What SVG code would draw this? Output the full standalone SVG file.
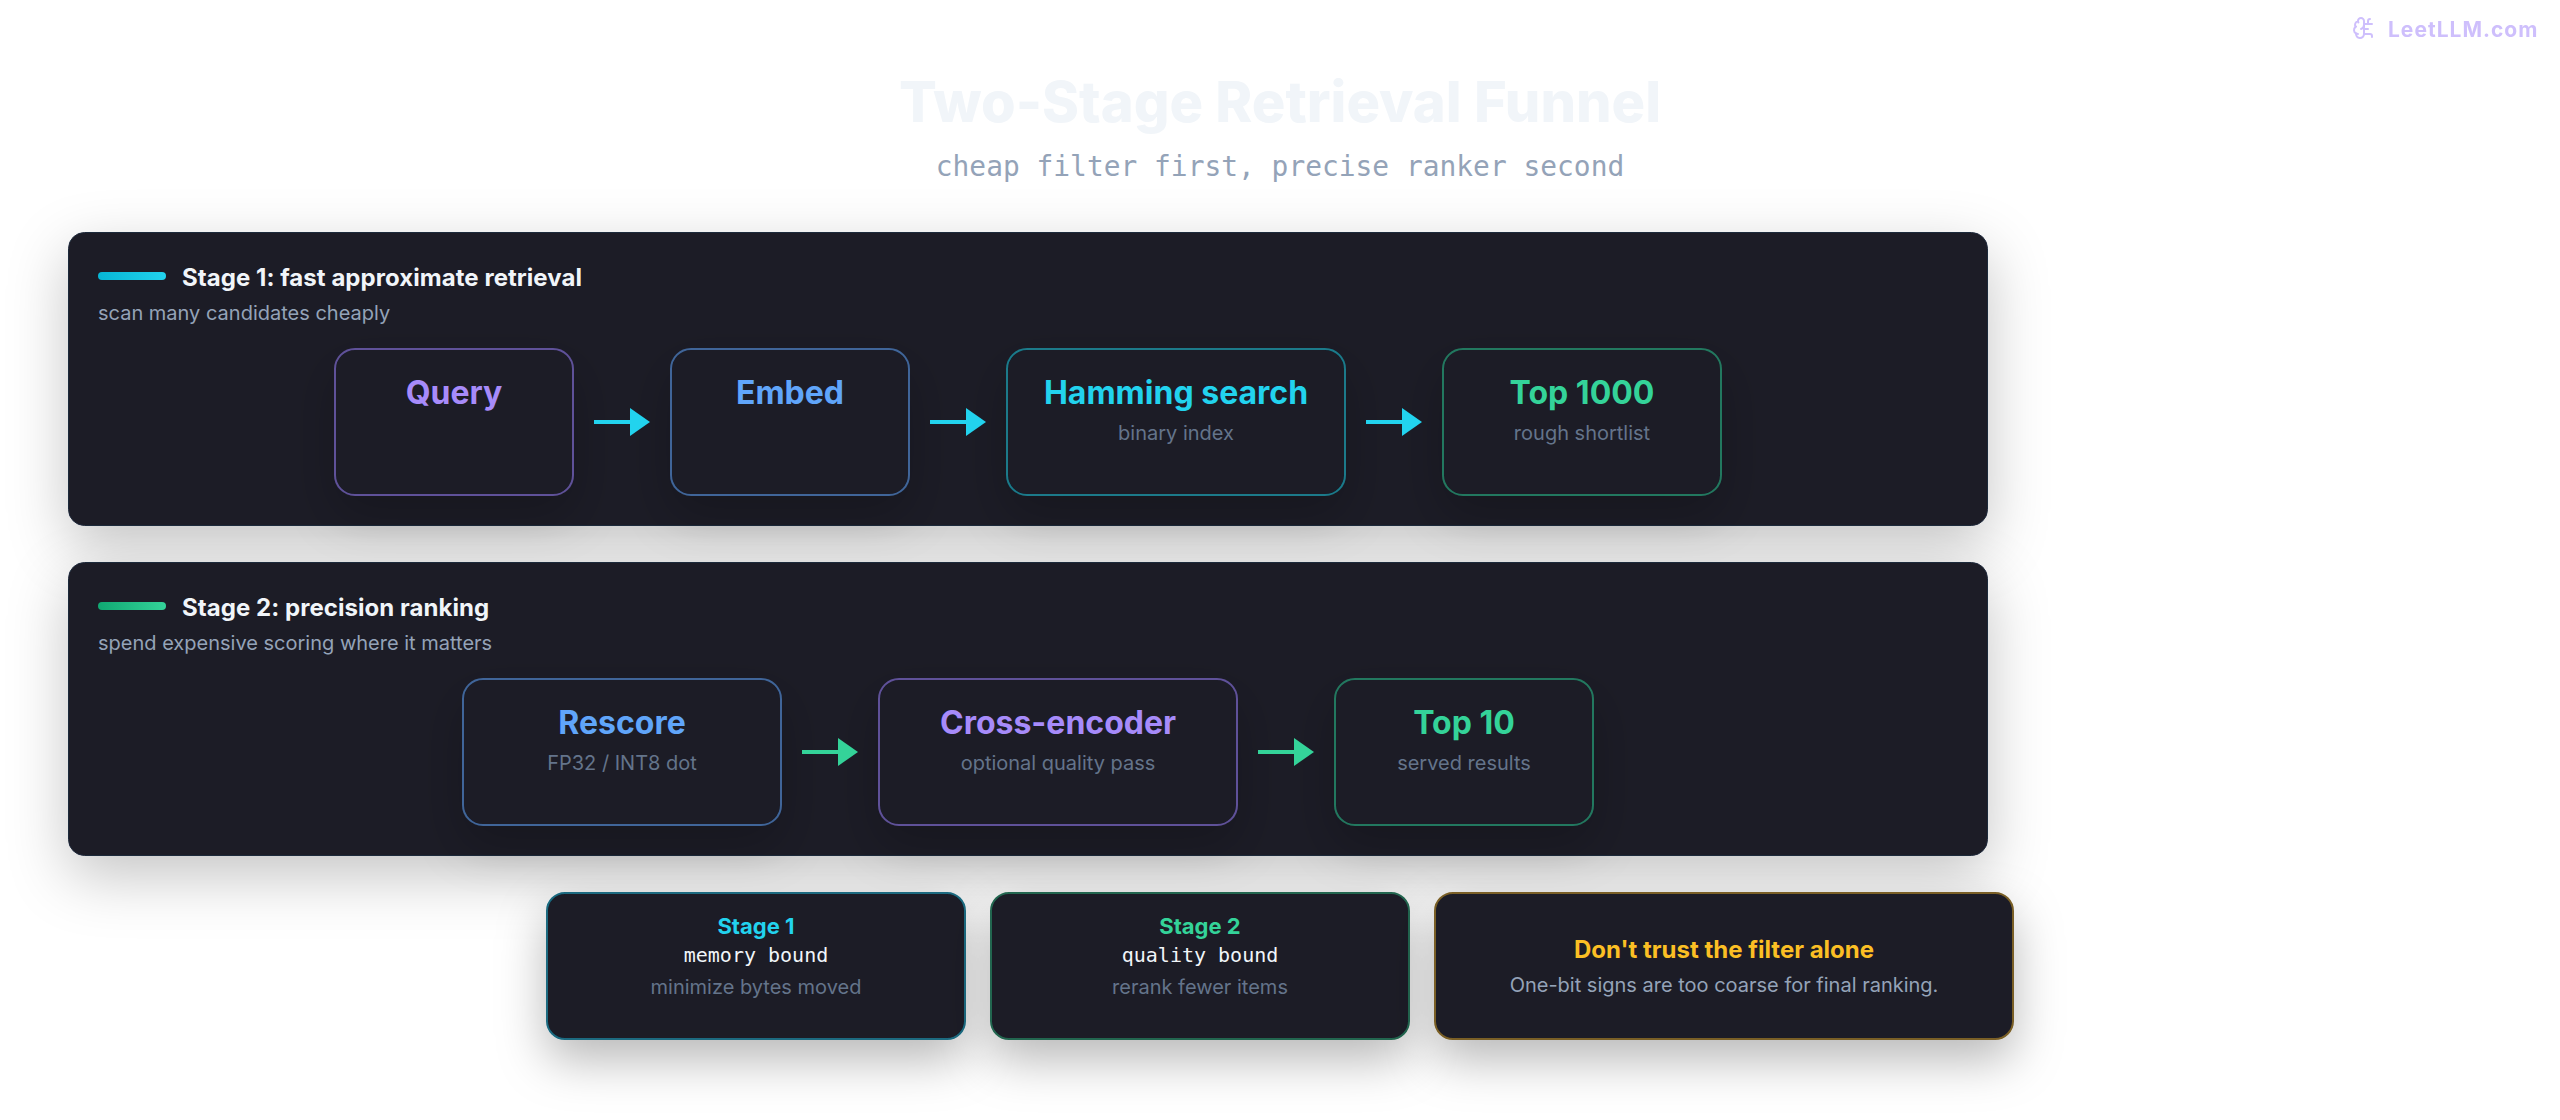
<svg xmlns="http://www.w3.org/2000/svg" width="2560" height="1120" viewBox="0 0 2560 1120">
<defs>
<style>
text{font-family:"Inter","Liberation Sans",sans-serif}
.mono{font-family:"DejaVu Sans Mono","Liberation Mono",monospace}
.panel{fill:#1a1b26;stroke:#1e293b;stroke-width:1}
.node{fill:#1a1b26;stroke-width:2}
.card{fill:#1a1b26;stroke-width:2}
.pt{font-size:24px;font-weight:700;fill:#f1f5f9;letter-spacing:.05px}
.ps{font-size:20px;fill:#94a3b8}
.nt{font-size:32px;font-weight:700;text-anchor:middle}
.ns{font-size:20px;fill:#64748b;text-anchor:middle}
.ct{font-size:22px;font-weight:700;text-anchor:middle}
.cm{font-size:20px;fill:#f1f5f9;text-anchor:middle}
.cs{font-size:20px;fill:#64748b;text-anchor:middle}
.a1{stroke:#22d3ee;stroke-width:4;fill:none}
.a2{stroke:#34d399;stroke-width:4;fill:none}
.h1{fill:#22d3ee}
.h2{fill:#34d399}
.wm{fill:none;stroke:#a78bfa;stroke-width:2;stroke-linecap:round;stroke-linejoin:round}
</style>
<linearGradient id="g1" x1="0" x2="1" y1="0" y2="0"><stop offset="0" stop-color="#06b6d4"/><stop offset="1" stop-color="#22d3ee"/></linearGradient>
<linearGradient id="g2" x1="0" x2="1" y1="0" y2="0"><stop offset="0" stop-color="#10a872"/><stop offset="1" stop-color="#34d399"/></linearGradient>
<filter id="sh" filterUnits="userSpaceOnUse" x="-100" y="100" width="2400" height="1020"><feDropShadow dx="0" dy="20" stdDeviation="30" flood-color="#000" flood-opacity="0.23"/></filter>
<filter id="shn" filterUnits="userSpaceOnUse" x="-100" y="100" width="2400" height="1020"><feDropShadow dx="0" dy="20" stdDeviation="24" flood-color="#000" flood-opacity="0.2"/></filter>
<filter id="shc" filterUnits="userSpaceOnUse" x="-100" y="100" width="2400" height="1020"><feDropShadow dx="0" dy="20" stdDeviation="24" flood-color="#000" flood-opacity="0.28"/></filter>
</defs>
<rect width="2560" height="1120" fill="#fff"/>
<g id="watermark" opacity="0.55">
<g transform="translate(2352,16)" class="wm">
<path d="M12 5a3 3 0 1 0-5.997.125 4 4 0 0 0-2.526 5.77 4 4 0 0 0 .556 6.588A4 4 0 1 0 12 18Z"/>
<path d="M9 13a4.5 4.5 0 0 0 3-4"/><path d="M6.003 5.125A3 3 0 0 0 6.401 6.5"/><path d="M3.477 10.896a4 4 0 0 1 .585-.396"/><path d="M6 18a4 4 0 0 1-1.967-.516"/><path d="M12 13h4"/><path d="M12 18h6a2 2 0 0 1 2 2v1"/><path d="M12 8h8"/><path d="M16 8V5a2 2 0 0 1 2-2"/>
</g>
<text x="2388" y="37" font-size="21" font-weight="700" letter-spacing="1" fill="#a78bfa">LeetLLM.com</text>
</g>
<g id="title">
<text x="1280" y="122" font-size="56" font-weight="800" fill="#f1f5f9" text-anchor="middle">Two-Stage Retrieval Funnel</text>
<text class="mono" x="1280" y="175.5" font-size="27.9" fill="#94a3b8" text-anchor="middle">cheap filter first, precise ranker second</text>
</g>
<g id="panel-stage1">
<rect class="panel" x="68.5" y="232.5" width="1919" height="293" rx="16" filter="url(#sh)"/>
<rect x="98" y="272" width="68" height="8" rx="4" fill="url(#g1)"/>
<text class="pt" x="182" y="286">Stage 1: fast approximate retrieval</text>
<text class="ps" x="98" y="320">scan many candidates cheaply</text>
</g>
<g id="panel-stage2">
<rect class="panel" x="68.5" y="562.5" width="1919" height="293" rx="16" filter="url(#sh)"/>
<rect x="98" y="602" width="68" height="8" rx="4" fill="url(#g2)"/>
<text class="pt" x="182" y="616">Stage 2: precision ranking</text>
<text class="ps" x="98" y="650">spend expensive scoring where it matters</text>
</g>
<g id="node-query">
<rect class="node" x="335" y="349" width="238" height="146" rx="20" stroke="#5f5199" filter="url(#shn)"/>
<text class="nt" x="454" y="404" fill="#a78bfa">Query</text>
</g>
<g id="node-embed">
<rect class="node" x="671" y="349" width="238" height="146" rx="20" stroke="#3f6599" filter="url(#shn)"/>
<text class="nt" x="790" y="404" fill="#60a5fa">Embed</text>
</g>
<g id="node-hamming">
<rect class="node" x="1007" y="349" width="338" height="146" rx="20" stroke="#1a7a8a" filter="url(#shn)"/>
<text class="nt" x="1176" y="404" fill="#22d3ee">Hamming search</text>
<text class="ns" x="1176" y="440">binary index</text>
</g>
<g id="node-top1000">
<rect class="node" x="1443" y="349" width="278" height="146" rx="20" stroke="#23785f" filter="url(#shn)"/>
<text class="nt" x="1582" y="404" fill="#34d399">Top 1000</text>
<text class="ns" x="1582" y="440">rough shortlist</text>
</g>
<g id="node-rescore">
<rect class="node" x="463" y="679" width="318" height="146" rx="20" stroke="#3f6599" filter="url(#shn)"/>
<text class="nt" x="622" y="734" fill="#60a5fa">Rescore</text>
<text class="ns" x="622" y="770">FP32 / INT8 dot</text>
</g>
<g id="node-cross">
<rect class="node" x="879" y="679" width="358" height="146" rx="20" stroke="#5f5199" filter="url(#shn)"/>
<text class="nt" x="1058" y="734" fill="#a78bfa">Cross-encoder</text>
<text class="ns" x="1058" y="770">optional quality pass</text>
</g>
<g id="node-top10">
<rect class="node" x="1335" y="679" width="258" height="146" rx="20" stroke="#23785f" filter="url(#shn)"/>
<text class="nt" x="1464" y="734" fill="#34d399">Top 10</text>
<text class="ns" x="1464" y="770">served results</text>
</g>
<g id="connectors">
<path class="a1" d="M594 422H632"/><path class="h1" d="M630 408L650 422L630 436Z"/>
<path class="a1" d="M930 422H968"/><path class="h1" d="M966 408L986 422L966 436Z"/>
<path class="a1" d="M1366 422H1404"/><path class="h1" d="M1402 408L1422 422L1402 436Z"/>
<path class="a2" d="M802 752H840"/><path class="h2" d="M838 738L858 752L838 766Z"/>
<path class="a2" d="M1258 752H1296"/><path class="h2" d="M1294 738L1314 752L1294 766Z"/>
</g>
<g id="card-stage1">
<rect class="card" x="547" y="893" width="418" height="146" rx="18" stroke="#1a6a80" filter="url(#shc)"/>
<text class="ct" x="756" y="934" fill="#22d3ee">Stage 1</text>
<text class="cm mono" x="756" y="962">memory bound</text>
<text class="cs" x="756" y="994">minimize bytes moved</text>
</g>
<g id="card-stage2">
<rect class="card" x="991" y="893" width="418" height="146" rx="18" stroke="#23664f" filter="url(#shc)"/>
<text class="ct" x="1200" y="934" fill="#34d399">Stage 2</text>
<text class="cm mono" x="1200" y="962">quality bound</text>
<text class="cs" x="1200" y="994">rerank fewer items</text>
</g>
<g id="card-warning">
<rect class="card" x="1435" y="893" width="578" height="146" rx="18" stroke="#7a5f25" filter="url(#shc)"/>
<text class="ct" x="1724" y="958" style="font-size:24px" fill="#fbbf24">Don't trust the filter alone</text>
<text x="1724" y="992" font-size="20" fill="#94a3b8" text-anchor="middle">One-bit signs are too coarse for final ranking.</text>
</g>
</svg>
